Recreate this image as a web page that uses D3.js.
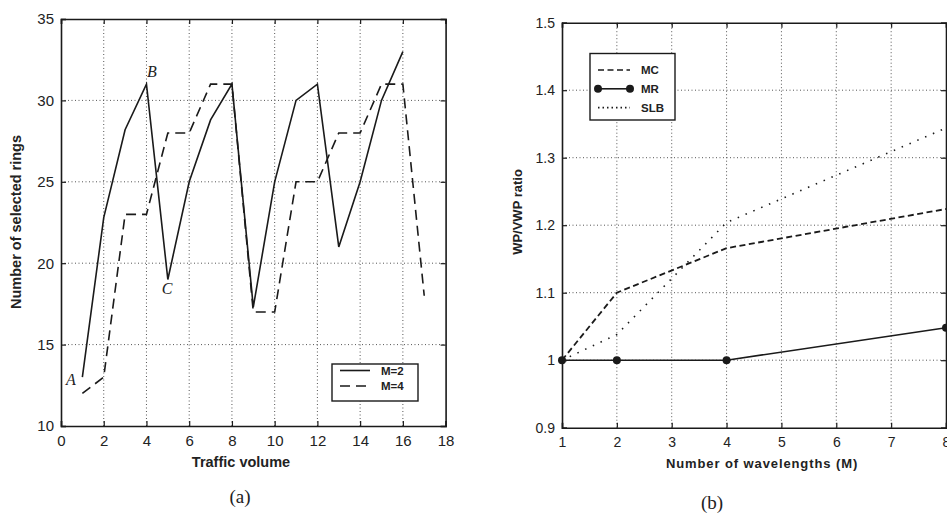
<!DOCTYPE html>
<html>
<head>
<meta charset="utf-8">
<script src="https://cdn.jsdelivr.net/npm/d3@7/dist/d3.min.js"></script>
<style>
  body { margin: 0; background: #fff; }
  svg { display: block; }
  .tick-label { font-family: "Liberation Sans", Arial, sans-serif; font-size: 15px; fill: #222; }
  .axis-title { font-family: "Liberation Sans", Arial, sans-serif; font-weight: bold; font-size: 14.5px; fill: #222; }
  .legend-text { font-family: "Liberation Sans", Arial, sans-serif; font-weight: bold; font-size: 11.5px; fill: #222; }
  .caption { font-family: "Liberation Serif", "Times New Roman", serif; font-size: 19px; fill: #222; }
  .note { font-family: "Liberation Serif", "Times New Roman", serif; font-style: italic; font-size: 16px; fill: #222; }
</style>
</head>
<body>
<svg id="chart" width="947" height="513"></svg>
<script>
/* (a) number of selected rings vs traffic volume */
const trafficM2 = [1, 2, 3, 4, 5, 6, 7, 8, 9, 10, 11, 12, 13, 14, 15, 16];
const ringsM2 = [13, 22.8, 28.2, 31, 19, 25, 28.8, 31, 17.3, 25, 30, 31, 21, 25, 30, 33];
const trafficM4 = [1, 2, 3, 4, 5, 6, 7, 8, 9, 10, 11, 12, 13, 14, 15, 16, 17];
const ringsM4 = [12, 13, 23, 23, 28, 28, 31, 31, 17, 17, 25, 25, 28, 28, 31, 31, 18];
const trafficTicks = [0, 2, 4, 6, 8, 10, 12, 14, 16, 18];
const ringTicks = [10, 15, 20, 25, 30, 35];

/* (b) WP/VWP ratio vs number of wavelengths */
const wavelengths = [1, 2, 4, 8];
const ratioMC = [1.0, 1.1, 1.166, 1.224];
const ratioMR = [1.0, 1.0, 1.0, 1.048];
const ratioSLB = [1.0, 1.038, 1.204, 1.344];
const wavelengthTicks = [1, 2, 3, 4, 5, 6, 7, 8];
const ratioTicks = [0.9, 1, 1.1, 1.2, 1.3, 1.4, 1.5];

const svg = d3.select('#chart');
const ink = '#1a1a1a';

function frame(g, x, y, xTicks, yTicks, xFmt, yFmt, labelSize) {
  const [x0, x1] = x.range();
  const [y0, y1] = y.range();
  // dotted grid
  g.selectAll('.gx').data(xTicks.slice(1, -1)).enter().append('line')
    .attr('x1', (d) => x(d)).attr('x2', (d) => x(d))
    .attr('y1', y0).attr('y2', y1)
    .attr('stroke', '#555').attr('stroke-width', 1).attr('stroke-dasharray', '1,2.5');
  g.selectAll('.gy').data(yTicks.slice(1, -1)).enter().append('line')
    .attr('y1', (d) => y(d)).attr('y2', (d) => y(d))
    .attr('x1', x0).attr('x2', x1)
    .attr('stroke', '#555').attr('stroke-width', 1).attr('stroke-dasharray', '1,2.5');
  // axes with inner ticks
  g.append('g').attr('transform', `translate(0,${y0})`)
    .call(d3.axisBottom(x).tickValues(xTicks).tickSize(-5).tickPadding(9).tickFormat(xFmt));
  g.append('g').attr('transform', `translate(0,${y1})`)
    .call(d3.axisTop(x).tickValues(xTicks).tickSize(-5).tickFormat(''));
  g.append('g').attr('transform', `translate(${x0},0)`)
    .call(d3.axisLeft(y).tickValues(yTicks).tickSize(-5).tickPadding(7).tickFormat(yFmt));
  g.append('g').attr('transform', `translate(${x1},0)`)
    .call(d3.axisRight(y).tickValues(yTicks).tickSize(-5).tickFormat(''));
  g.selectAll('.domain').attr('stroke', ink).attr('stroke-width', 1.6);
  g.selectAll('.tick line').attr('stroke', ink).attr('stroke-width', 1.2);
  g.selectAll('.tick text').attr('class', 'tick-label').attr('font-family', null)
    .attr('font-size', null).style('font-size', labelSize + 'px');
}

/* ---------- left panel ---------- */
const xa = d3.scaleLinear().domain([0, 18]).range([61, 445.6]);
const ya = d3.scaleLinear().domain([10, 35]).range([426, 19]);
const ga = svg.append('g');
frame(ga, xa, ya, trafficTicks, ringTicks, d3.format('d'), d3.format('d'), 15);

const lineA = d3.line().x((d) => xa(d[0])).y((d) => ya(d[1]));
ga.append('path').datum(d3.zip(trafficM2, ringsM2))
  .attr('d', lineA).attr('fill', 'none').attr('stroke', ink).attr('stroke-width', 1.6);
ga.append('path').datum(d3.zip(trafficM4, ringsM4))
  .attr('d', lineA).attr('fill', 'none').attr('stroke', ink).attr('stroke-width', 1.6)
  .attr('stroke-dasharray', '10,6');

ga.append('text').attr('class', 'note').attr('x', 71).attr('y', 385).attr('text-anchor', 'middle').text('A');
ga.append('text').attr('class', 'note').attr('x', 152).attr('y', 77).attr('text-anchor', 'middle').text('B');
ga.append('text').attr('class', 'note').attr('x', 167).attr('y', 294).attr('text-anchor', 'middle').text('C');

const legA = ga.append('g');
legA.append('rect').attr('x', 332).attr('y', 364).attr('width', 86).attr('height', 37)
  .attr('fill', '#fff').attr('stroke', ink).attr('stroke-width', 1.4);
[['M=2', null], ['M=4', '10,6']].forEach((e, i) => {
  const ly = 370.5 + i * 15.5;
  legA.append('line').attr('x1', 340).attr('x2', 370).attr('y1', ly).attr('y2', ly)
    .attr('stroke', ink).attr('stroke-width', 1.6).attr('stroke-dasharray', e[1]);
  legA.append('text').attr('class', 'legend-text').attr('x', 381).attr('y', ly + 4).text(e[0]);
});

ga.append('text').attr('class', 'axis-title').attr('text-anchor', 'middle')
  .attr('transform', 'translate(21,222) rotate(-90)').text('Number of selected rings');
ga.append('text').attr('class', 'axis-title').attr('text-anchor', 'middle')
  .attr('x', 241).attr('y', 467).text('Traffic volume');
ga.append('text').attr('class', 'caption').attr('text-anchor', 'middle')
  .attr('x', 240).attr('y', 503).text('(a)');

/* ---------- right panel ---------- */
const xb = d3.scaleLinear().domain([1, 8]).range([562, 946]);
const yb = d3.scaleLinear().domain([0.9, 1.5]).range([427.7, 22.7]);
const gb = svg.append('g');
frame(gb, xb, yb, wavelengthTicks, ratioTicks, d3.format('d'),
  (d) => d === 1 ? '1' : d3.format('.1f')(d), 14);

const lineB = d3.line().x((d) => xb(d[0])).y((d) => yb(d[1]));
gb.append('path').datum(d3.zip(wavelengths, ratioSLB))
  .attr('d', lineB).attr('fill', 'none').attr('stroke', ink).attr('stroke-width', 1.6)
  .attr('stroke-dasharray', '1.5,7');
gb.append('path').datum(d3.zip(wavelengths, ratioMC))
  .attr('d', lineB).attr('fill', 'none').attr('stroke', ink).attr('stroke-width', 1.8)
  .attr('stroke-dasharray', '6,3.5');
gb.append('path').datum(d3.zip(wavelengths, ratioMR))
  .attr('d', lineB).attr('fill', 'none').attr('stroke', ink).attr('stroke-width', 1.6);
gb.selectAll('.mr').data(d3.zip(wavelengths, ratioMR)).enter().append('circle')
  .attr('cx', (d) => xb(d[0])).attr('cy', (d) => yb(d[1])).attr('r', 4)
  .attr('fill', ink);

const legB = gb.append('g');
legB.append('rect').attr('x', 590).attr('y', 53.5).attr('width', 85).attr('height', 66.5)
  .attr('fill', '#fff').attr('stroke', ink).attr('stroke-width', 1.4);
[['MC', '6,3.5', false], ['MR', null, true], ['SLB', '1.5,3', false]].forEach((e, i) => {
  const ly = 70 + i * 18.8;
  legB.append('line').attr('x1', 598).attr('x2', 630).attr('y1', ly).attr('y2', ly)
    .attr('stroke', ink).attr('stroke-width', 1.6).attr('stroke-dasharray', e[1]);
  if (e[2]) {
    legB.append('circle').attr('cx', 598).attr('cy', ly).attr('r', 4).attr('fill', ink);
    legB.append('circle').attr('cx', 630).attr('cy', ly).attr('r', 4).attr('fill', ink);
  }
  legB.append('text').attr('class', 'legend-text').attr('x', 641).attr('y', ly + 4).text(e[0]);
});

gb.append('text').attr('class', 'axis-title').attr('text-anchor', 'middle').style('font-size', '13px')
  .attr('transform', 'translate(522,212) rotate(-90)').text('WP/VWP ratio');
gb.append('text').attr('class', 'axis-title').attr('text-anchor', 'middle').style('font-size', '13px')
  .attr('x', 762).attr('y', 468).style('letter-spacing', '0.9px').text('Number of wavelengths (M)');
gb.append('text').attr('class', 'caption').attr('text-anchor', 'middle')
  .attr('x', 712).attr('y', 509).text('(b)');
</script>
</body>
</html>
